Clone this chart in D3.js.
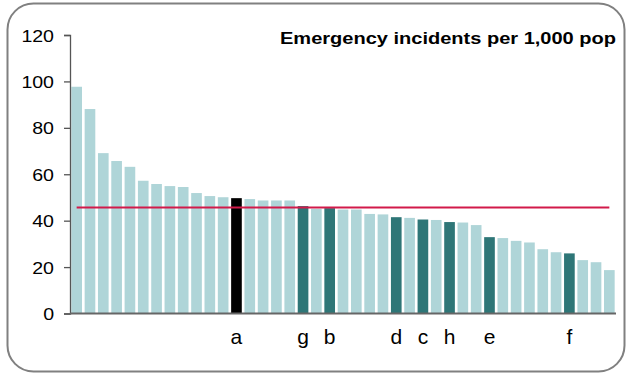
<!DOCTYPE html>
<html>
<head>
<meta charset="utf-8">
<script src="https://cdn.jsdelivr.net/npm/d3@7"></script>
<style>
  html, body { margin: 0; padding: 0; background: #fff; }
  svg { display: block; }
  text { font-family: "Liberation Sans", Arial, sans-serif; fill: #000; }
</style>
</head>
<body>
<div id="chart"></div>
<script>
// ---- data ----
const title = "Emergency incidents per 1,000 pop";
const labels = ["", "", "", "", "", "", "", "", "", "", "", "", "a", "", "", "", "", "g", "", "b",
                "", "", "", "", "d", "", "c", "", "h", "", "", "e", "", "", "", "", "", "f", "", "", ""];
const values = [97.7, 88.1, 69.1, 65.7, 63.2, 57.2, 55.8, 54.9, 54.5, 51.9, 50.6, 50.1, 49.7, 49.3, 48.7, 48.7, 48.7, 46.3, 45.1, 45.4,
                44.8, 44.8, 42.9, 42.7, 41.5, 41.2, 40.5, 40.3, 39.4, 39.2, 38.1, 32.9, 32.5, 31.3, 30.6, 27.7, 26.4, 25.9, 23.0, 22.1, 18.7];
// 0 = other, 1 = highlighted, 2 = selected
const groups = [0, 0, 0, 0, 0, 0, 0, 0, 0, 0, 0, 0, 2, 0, 0, 0, 0, 1, 0, 1,
                0, 0, 0, 0, 1, 0, 1, 0, 1, 0, 0, 1, 0, 0, 0, 0, 0, 1, 0, 0, 0];
const averageValue = 45.7;
const yTicks = [0, 20, 40, 60, 80, 100, 120];

// ---- layout ----
const W = 627, H = 374;
const colors = ["#afd5d8", "#2e7677", "#000000"];

const svg = d3.select("#chart").append("svg").attr("width", W).attr("height", H);

// frame
svg.append("rect")
  .attr("x", 7.5).attr("y", 3.5).attr("width", 617).attr("height", 368)
  .attr("rx", 26).attr("ry", 26)
  .attr("fill", "#fff").attr("stroke", "#808080").attr("stroke-width", 2);

const x = d3.scaleBand()
  .domain(d3.range(values.length))
  .range([70, 616])
  .paddingInner(0.2).paddingOuter(0.1);

const y = d3.scaleLinear().domain([0, 120]).range([313.5, 35]);

// bars
svg.append("g").selectAll("rect").data(values).join("rect")
  .attr("x", (d, i) => x(i))
  .attr("width", x.bandwidth())
  .attr("y", d => y(d))
  .attr("height", d => y(0) - y(d))
  .attr("fill", (d, i) => colors[groups[i]]);

// y axis
const yAxis = svg.append("g").attr("transform", "translate(70,0)")
  .call(d3.axisLeft(y).tickValues(yTicks).tickSize(6).tickPadding(10));
yAxis.select(".domain").attr("stroke", "#555").attr("stroke-width", 1.3);
yAxis.selectAll(".tick line").attr("stroke", "#555").attr("stroke-width", 1.3);
yAxis.selectAll(".tick text")
  .attr("font-family", "Liberation Sans, Arial, sans-serif")
  .attr("font-size", 17).attr("fill", "#000").attr("dy", "0.36em")
  .each(function() {
    const len = this.getComputedTextLength();
    d3.select(this).attr("textLength", len * 1.15).attr("lengthAdjust", "spacingAndGlyphs");
  });

// x axis baseline
const xAxis = svg.append("g").attr("transform", `translate(0,${y(0)})`)
  .call(d3.axisBottom(x).tickSize(0).tickFormat(() => ""));
xAxis.select(".domain").attr("stroke", "#666").attr("stroke-width", 2)
  .attr("d", "M70,0H616");

// category labels
svg.append("g").selectAll("text").data(labels).join("text")
  .attr("x", (d, i) => x(i) + x.bandwidth() / 2)
  .attr("y", 344)
  .attr("text-anchor", "middle")
  .attr("font-size", 21)
  .text(d => d);

// average line
svg.append("line")
  .attr("x1", x(0) + x.bandwidth() / 2)
  .attr("x2", x(values.length - 1) + x.bandwidth() / 2)
  .attr("y1", y(averageValue)).attr("y2", y(averageValue))
  .attr("stroke", "#d21a4a").attr("stroke-width", 2);

// title
svg.append("text")
  .attr("x", 616).attr("y", 44)
  .attr("text-anchor", "end")
  .attr("font-size", 16).attr("font-weight", "bold")
  .attr("textLength", 336).attr("lengthAdjust", "spacingAndGlyphs")
  .text(title);
</script>
</body>
</html>
